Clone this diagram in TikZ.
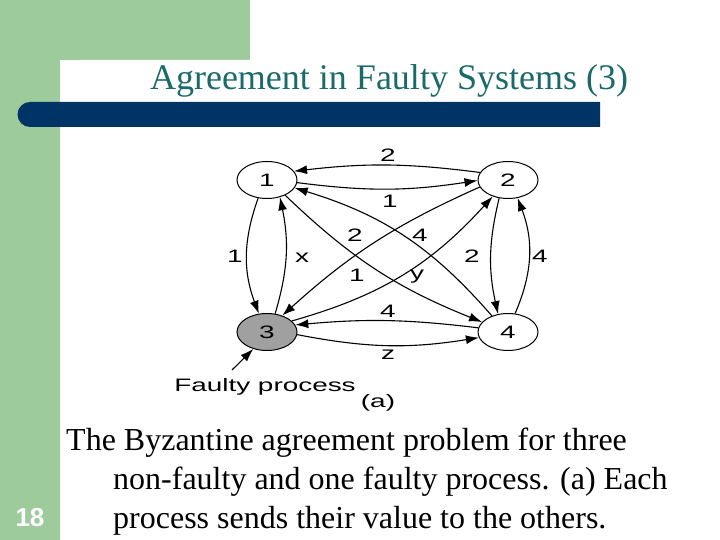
\documentclass[tikz,border=0pt]{standalone}
\usepackage{fontspec}
\setmainfont{Liberation Serif}
\setsansfont{Liberation Sans}
\usetikzlibrary{arrows.meta,shapes.geometric}

\definecolor{slidegreen}{RGB}{158,203,156}
\definecolor{barnavy}{RGB}{0,52,102}
\definecolor{titleteal}{RGB}{27,106,106}
\definecolor{faultgray}{RGB}{160,160,160}

% stretched figure lettering
\newcommand{\wide}[1]{\scalebox{1.55}[1]{#1}}

\begin{document}
\begin{tikzpicture}[x=1pt, y=1pt, >={Latex[length=13pt,width=9pt]},
    proc/.style={draw, ellipse, line width=1pt, minimum width=60pt, minimum height=37pt, inner sep=0pt, font=\sffamily\fontsize{18}{18}\selectfont},
    msg/.style={->, line width=1.1pt},
    lbl/.style={anchor=base, inner sep=0pt, font=\sffamily\fontsize{18}{18}\selectfont},
    bodyline/.style={anchor=base west, inner sep=0pt, font=\fontsize{32}{39}\selectfont}]
    \useasboundingbox (0,0) rectangle (720,540);
    \fill[white] (0,0) rectangle (720,540);

    % slide frame
    \fill[slidegreen] (0,0) rectangle (60,540);
    \fill[slidegreen] (0,480) rectangle (250,540);
    \fill[white] (60,0) -- (60,460) arc[start angle=180, end angle=90, radius=20] -- (300,480) -- (300,0) -- cycle;
    \fill[barnavy] (600,438) -- (30,438) arc[start angle=90, end angle=270, radius=12.5] -- (600,413) -- cycle;

    % title
    \node[anchor=base, inner sep=0pt, text=titleteal, font=\fontsize{36}{40}\selectfont] (title) at (389,450) {Agreement in Faulty Systems (3)};

    % processes
    \node[proc] (n1) at (267,360) {\wide{1}};
    \node[proc] (n2) at (508,360) {\wide{2}};
    \node[proc, fill=faultgray] (n3) at (267,208) {\wide{3}};
    \node[proc] (n4) at (508,208) {\wide{4}};

    % messages between processes
    \draw[msg] (n1.-5) to[bend right=8] (n2.181);
    \draw[msg] (n2.165) to[bend right=7] (n1.18);
    \draw[msg] (n1.244) to[bend right=20] (n3.114);
    \draw[msg] (n3.66) to[bend right=14] (n1.-53);
    \draw[msg] (n2.244) to[bend right=13] (n4.119);
    \draw[msg] (n4.69) to[bend right=22] (n2.-62);
    \draw[msg] (n3.-5) to[bend right=10] (n4.191);
    \draw[msg] (n4.172) to[bend right=6] (n3.14);
    \draw[msg] (n1.-40) to[bend right=11] (n4.159);
    \draw[msg] (n4.135) to[bend right=16] (n1.-16);
    \draw[msg] (n2.194) to[bend right=9] (n3.47);
    \draw[msg] (n3.24) to[bend right=16] (n2.227);

    % values sent
    \node[lbl] (v21) at (388,378) {\wide{2}};
    \node[lbl] (v12) at (390,332) {\wide{1}};
    \node[lbl] (v13) at (235,277) {\wide{1}};
    \node[lbl] (v31) at (302,277) {\wide{x}};
    \node[lbl] (v23) at (355,298) {\wide{2}};
    \node[lbl] (v41) at (420,298) {\wide{4}};
    \node[lbl] (v14) at (357,258) {\wide{1}};
    \node[lbl] (v32) at (417,260) {\wide{y}};
    \node[lbl] (v24) at (472,277) {\wide{2}};
    \node[lbl] (v42) at (540,277) {\wide{4}};
    \node[lbl] (v43) at (388,222) {\wide{4}};
    \node[lbl] (v34) at (388,180) {\wide{z}};

    % faulty marker
    \node[lbl] (faulty) at (265,148) {\wide{Faulty process}};
    \node[lbl] (sub) at (378,132) {\wide{(a)}};
    \coordinate (faultyTail) at (232,170);
    \draw[msg] (faultyTail) -- (n3.231);

    % caption
    \node[bodyline] (body1) at (66,89) {The Byzantine agreement problem for three};
    \node[bodyline] (body2) at (113,50) {non-faulty and one faulty process. (a) Each};
    \node[bodyline] (body3) at (113,11) {process sends their value to the others.};

    % slide number
    \node[anchor=base, inner sep=0pt, text=white, font=\sffamily\bfseries\fontsize{26}{26}\selectfont] (pagenum) at (30,13) {18};
\end{tikzpicture}
\end{document}
